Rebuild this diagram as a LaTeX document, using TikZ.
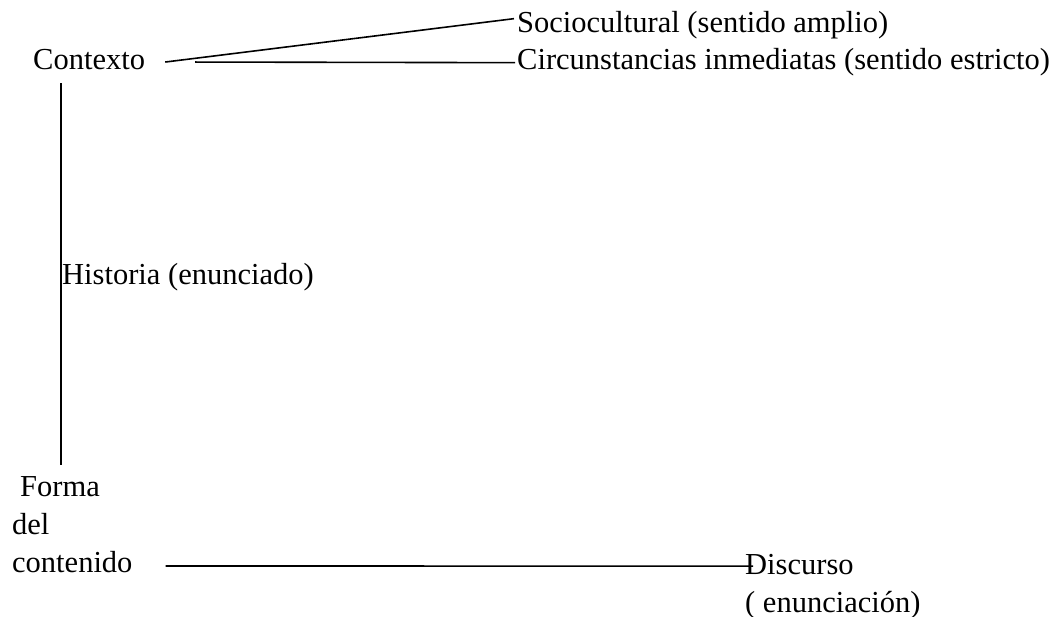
\documentclass[tikz,border=0pt]{standalone}
\usepackage{fontspec}
\setmainfont{Liberation Serif}
\begin{document}
\begin{tikzpicture}[x=1pt,y=-1pt,
  lbl/.style={inner sep=0pt, font=\fontsize{30.5}{38}\selectfont},
  conn/.style={line width=1.6pt}]
\useasboundingbox (0,0) rectangle (1054,617);
\node[lbl,anchor=base west] (contexto) at (33,70) {Contexto};
\node[lbl,anchor=base west] (socio) at (517,33) {Sociocultural (sentido amplio)};
\node[lbl,anchor=base west] (circ) at (517,70) {Circunstancias inmediatas (sentido estricto)};
\node[lbl,anchor=base west] (historia) at (62,285) {Historia (enunciado)};
\node[lbl,anchor=south west,align=left] (forma) at (12,573) {\hspace*{8pt}Forma\\del\\contenido};
\node[lbl,anchor=base west,align=left] (discurso) at (745,612) {Discurso\\( enunciación)};
% connectors
\draw[conn] ([xshift=20pt,yshift=-2pt]contexto.east) -- ([xshift=-3pt,yshift=7pt]socio.west);
\draw[conn] ([xshift=50pt,yshift=-2pt]contexto.east) -- ([xshift=-2pt]circ.west);
\draw[conn] ([xshift=28pt,yshift=-13pt]contexto.south west) -- ([xshift=-1pt,yshift=-22pt]historia.west);
\draw[conn] ([xshift=-1pt,yshift=-5pt]historia.west) -- ([xshift=49pt,yshift=11pt]forma.north west);
\draw[conn] ([xshift=33pt,yshift=7pt]forma.south east) -- ([xshift=8pt,yshift=-12.5pt]discurso.north west);
\end{tikzpicture}
\end{document}
